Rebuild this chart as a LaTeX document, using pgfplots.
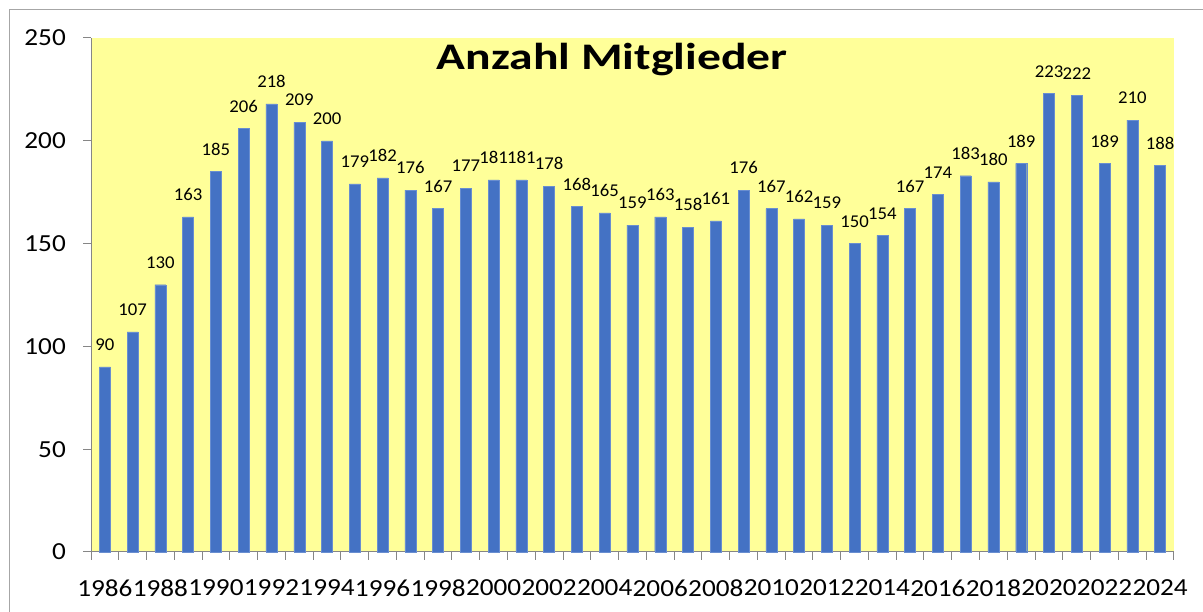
\documentclass[border=0pt]{standalone}
\usepackage{pgfplots}
\pgfplotsset{compat=1.18}
\usepackage{fontspec}
\setmainfont{Carlito}
\newfontfamily\tickfont{Carlito}[FakeStretch=1.11]
\newfontfamily\titlefont{Carlito}[FakeStretch=1.27]
\newfontfamily\labelfont{Carlito}[FakeStretch=1.04]
\definecolor{bgyellow}{HTML}{FFFF99}
\definecolor{barblue}{HTML}{4472C4}
\definecolor{axgray}{HTML}{868686}
\definecolor{bordergray}{HTML}{A6A6A6}
\begin{document}
\begin{tikzpicture}[x=1pt,y=1pt]
\useasboundingbox (0,0) rectangle (1203,612);
\draw[bordergray, line width=1.2pt] (9.5,-2) -- (9.5,602.5) -- (1205,602.5);
\begin{axis}[
  at={(91pt,60pt)}, anchor=south west,
  scale only axis, width=1083pt, height=514pt,
  xmin=1985.5, xmax=2024.5, ymin=0, ymax=250,
  axis lines*=left,
  axis line style={axgray, line width=1pt},
  axis background/.style={fill=bgyellow},
  ybar, bar width=11pt,
  xtick={1986,1988,...,2024},
  minor xtick={1985.5,1986.5,...,2024.5},
  major x tick style={draw=none},
  minor tick length=8pt,
  ytick={0,50,...,250},
  major tick length=8pt,
  tick align=outside,
  tick style={axgray, line width=1pt},
  scaled x ticks=false,
  /pgf/number format/assume math mode=true,
  x tick label style={/pgf/number format/1000 sep={}, font=\tickfont\fontsize{24.5}{29}\selectfont, inner sep=0pt, anchor=north, yshift=-19.5pt},
  y tick label style={font=\tickfont\fontsize{24.5}{29}\selectfont, inner sep=0pt, anchor=east, xshift=-17pt},
  clip=false,
  nodes near coords,
  every node near coord/.append style={font=\labelfont\fontsize{18}{22}\selectfont, black, inner sep=0pt, anchor=south, yshift=16pt},
]
\addplot[fill=barblue, draw=barblue!80!white, line width=0.4pt] coordinates {
(1986,90) (1987,107) (1988,130) (1989,163) (1990,185) (1991,206) (1992,218)
(1993,209) (1994,200) (1995,179) (1996,182) (1997,176) (1998,167) (1999,177)
(2000,181) (2001,181) (2002,178) (2003,168) (2004,165) (2005,159) (2006,163)
(2007,158) (2008,161) (2009,176) (2010,167) (2011,162) (2012,159) (2013,150)
(2014,154) (2015,167) (2016,174) (2017,183) (2018,180) (2019,189) (2020,223)
(2021,222) (2022,189) (2023,210) (2024,188)};
\node[font=\titlefont\bfseries\fontsize{37.5}{44}\selectfont, anchor=base] at (axis cs:2004.27,234.8) {Anzahl Mitglieder};
\end{axis}
\end{tikzpicture}
\end{document}
